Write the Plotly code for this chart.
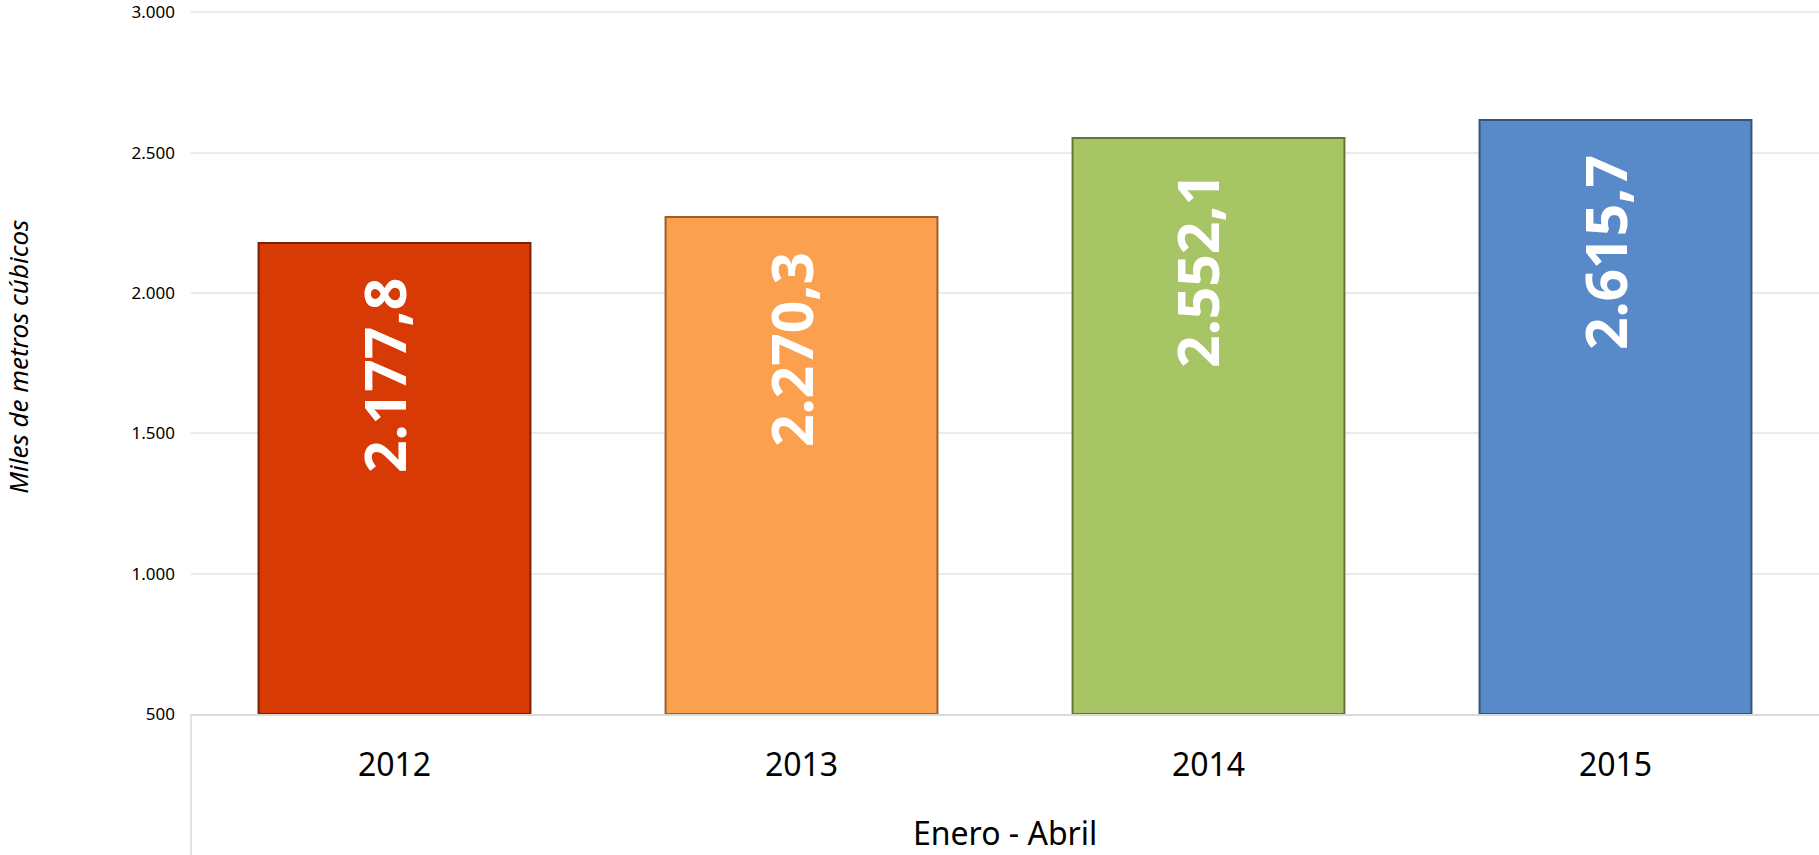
import plotly.graph_objects as go

# Volumen Enero - Abril (miles de metros cúbicos)
years = ['2012', '2013', '2014', '2015']
values = [2177.8, 2270.3, 2552.1, 2615.7]
labels = ['2.177,8', '2.270,3', '2.552,1', '2.615,7']
colors = ['#D83A06', '#FBA04E', '#A8C566', '#5889C9']
edge_colors = ['#7A2003', '#9A5E2A', '#62763A', '#34547E']
y_min = 500
y_max = 3000

fig = go.Figure()
fig.add_trace(go.Bar(
    x=years, y=[v - y_min for v in values],
    base=y_min,
    marker=dict(color=colors, line=dict(color=edge_colors, width=2)),
    width=0.668,
    hoverinfo='skip',
))

# etiquetas verticales dentro de las barras (x = indice de categoria)
for i, (v, lab) in enumerate(zip(values, labels)):
    fig.add_annotation(x=i, y=v, text='<b>' + lab + '</b>', showarrow=False,
                       textangle=-90, yanchor='top', xanchor='center',
                       yshift=-33, xshift=-11,
                       font=dict(family='Noto Sans', size=57, color='white'))

# títulos de ejes
fig.add_annotation(xref='paper', yref='paper', x=-0.106, y=0.508,
                   text='<i>Miles de metros cúbicos</i>', showarrow=False,
                   textangle=-90, xanchor='center', yanchor='middle',
                   font=dict(family='Noto Sans', size=26, color='black'))
fig.add_annotation(xref='paper', yref='paper', x=0.5, y=-0.169,
                   text='Enero - Abril', showarrow=False,
                   xanchor='center', yanchor='middle',
                   font=dict(family='Noto Sans', size=32, color='black'))

# separador de categorías bajo el eje
fig.add_shape(type='line', xref='paper', yref='paper', x0=0, x1=0, y0=0, y1=-0.21,
              line=dict(color='#D9D9D9', width=1.5))

fig.update_layout(
    width=1819, height=855,
    margin=dict(l=191, r=0, t=8, b=141),
    plot_bgcolor='white', paper_bgcolor='white',
    separators=',.',
    showlegend=False,
    font=dict(family='Noto Sans', color='black'),
)
fig.update_xaxes(
    type='category', categoryarray=years, range=[-0.5, len(years) - 0.5],
    showgrid=False, showline=True, linecolor='#D9D9D9', linewidth=2,
    tickfont=dict(size=32, color='black'), ticks='', ticklabelstandoff=22,
)
fig.update_yaxes(
    range=[y_min, y_max + 8], dtick=500, tickformat=',d', showgrid=True,
    gridcolor='#EAEAEA', gridwidth=1.5, zeroline=False, showline=False,
    tickfont=dict(size=17, color='black'), ticks='', ticklabelstandoff=15,
    ticklabeloverflow='allow',
)

fig.write_html('out.html', config={'displayModeBar': False},
               post_script="document.body.style.margin='0';document.body.style.overflow='hidden';")
